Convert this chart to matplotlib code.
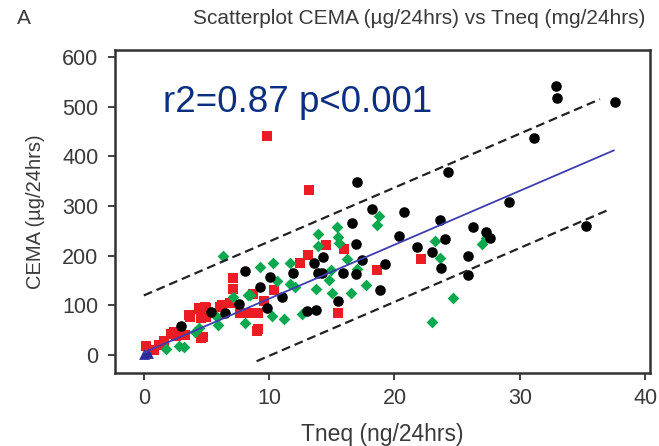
import numpy as np
import matplotlib
matplotlib.use('Agg')
from matplotlib import pyplot as plt

plt.rcParams['font.family'] = ['Liberation Sans', 'DejaVu Sans']

title = 'Scatterplot CEMA (\u00b5g/24hrs) vs Tneq (mg/24hrs)'
xlabel = 'Tneq (ng/24hrs)'
ylabel = 'CEMA (\u00b5g/24hrs)'
stat_text = 'r2=0.87 p<0.001'

# black circles (Tneq, CEMA)
black_x = [32.9, 33.0, 37.6, 31.15, 29.15, 35.3, 24.3, 18.2, 20.8, 23.6, 20.4,
           26.25, 27.3, 27.6, 24.05, 21.8, 23.0, 25.9, 23.7, 25.85, 19.25, 18.85,
           17.05, 16.6, 16.9, 14.3, 17.4, 13.6, 11.9, 13.9, 14.2, 15.9, 16.9,
           15.5, 13.0, 13.7, 10.1, 9.3, 11.0, 9.8, 3.0, 5.4, 6.5, 8.1, 7.6]
black_y = [542, 517, 510, 437, 309, 260, 369, 293, 288, 272, 240,
           258, 247, 235, 233, 217, 207, 199, 176, 161, 183, 131,
           349, 266, 224, 198, 191, 185, 166, 165, 165, 166, 163,
           109, 89, 90, 157, 137, 116, 95, 59, 87, 84, 169, 102]

# red squares
red_x = [9.86, 13.2, 22.1, 18.6, 14.5, 16.0, 13.1, 12.5, 10.4, 8.75, 9.6,
         9.15, 15.5, 0.2, 0.8, 1.6, 2.4, 2.9, 4.6, 3.7, 4.5, 4.9, 5.0, 6.2,
         6.9, 7.1, 7.1, 7.7, 8.5, 9.0, 2.6, 3.6, 4.4, 5.0, 4.6, 4.75, 6.1,
         9.1, 1.2, 3.3, 2.2]
red_y = [441, 332, 193, 171, 221, 213, 201, 185, 131, 123, 108,
         52, 85, 18, 10, 29, 47, 44, 34, 77, 92, 97, 77, 101,
         104, 156, 134, 84, 84, 49, 38, 80, 94, 94, 74, 37, 97,
         84, 20, 40, 42]

# green diamonds
green_x = [18.8, 18.6, 27.0, 23.2, 23.6, 24.7, 23.0, 15.4, 13.9, 15.5, 13.9,
           15.6, 16.2, 11.7, 10.3, 9.3, 14.9, 17.0, 14.8, 17.7, 13.7, 15.0,
           16.5, 10.6, 11.7, 12.1, 12.6, 10.2, 11.15, 8.5, 1.8, 2.8, 3.2, 4.1,
           4.4, 5.8, 5.95, 7.15, 8.35, 8.1, 6.35, 27.3]
green_y = [280, 261, 223, 230, 195, 115, 67, 257, 244, 237, 220,
           225, 193, 185, 186, 178, 172, 174, 152, 141, 134, 124,
           125, 150, 144, 137, 82, 78, 72, 121, 12, 18, 17, 47,
           54, 77, 60, 117, 121, 64, 199, 236]

# blue triangles
blue_x = [0.0, 0.3]
blue_y = [2, 5]

# regression line and prediction band
fit_intercept = 5.0
fit_slope = 10.85
fit_range = [0.0, 37.5]
band_half = 115.0
upper_range = [0.0, 36.4]
lower_range = [9.0, 37.1]

fig = plt.figure(figsize=(6.59, 4.46), dpi=100)
ax = fig.add_axes([0.1745, 0.1637, 0.812, 0.7243])

ax.scatter(red_x, red_y, marker='s', s=52, color='#ec1c24', linewidths=0, zorder=3)
ax.scatter(green_x, green_y, marker='D', s=36, color='#0aa84f', linewidths=0, zorder=4)
ax.scatter(black_x, black_y, marker='o', s=58, color='black', linewidths=0, zorder=5)
ax.scatter(blue_x, blue_y, marker='^', s=60, color='#2b2b9a', linewidths=0, zorder=6)

xf = np.array(fit_range)
ax.plot(xf, fit_intercept + fit_slope * xf, color='#3d3db0', lw=1.3, zorder=7)
xu = np.array(upper_range)
ax.plot(xu, fit_intercept + band_half + fit_slope * xu, color='#222222',
        lw=1.6, dashes=(4, 2.2), zorder=7)
xl = np.array(lower_range)
ax.plot(xl, fit_intercept - band_half + fit_slope * xl, color='#222222',
        lw=1.6, dashes=(4, 2.2), zorder=7)

ax.text(1.55, 490, stat_text, fontsize=26.5, color='#0b2f80')

ax.set_xlim(-2.3, 40.4)
ax.set_ylim(-36, 614)
ax.set_xticks([0, 10, 20, 30, 40])
ax.set_yticks([0, 100, 200, 300, 400, 500, 600])
ax.tick_params(direction='out', length=5, width=1.3, labelsize=15.5,
               labelcolor='#3a3a3a', color='#333333')
ax.tick_params(axis='y', pad=7)
ax.tick_params(axis='x', pad=6)
for s in ax.spines.values():
    s.set_linewidth(1.8)
    s.set_color('#333333')

ax.set_xlabel(xlabel, fontsize=16.5, color='#3a3a3a', labelpad=10)
ax.set_ylabel(ylabel, fontsize=14.5, color='#3a3a3a', labelpad=12)

fig.text(0.026, 0.958, 'A', fontsize=15, color='#3a3a3a', va='center')
fig.text(0.293, 0.958, title, fontsize=15, color='#3a3a3a', va='center')

plt.savefig('out.png', dpi=100)
